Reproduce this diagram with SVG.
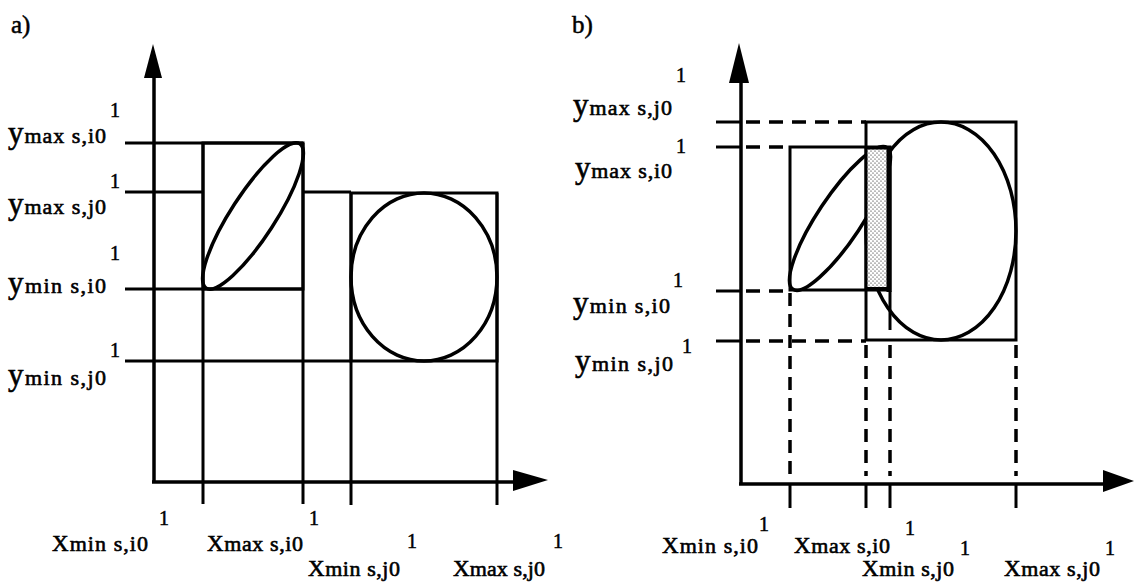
<svg xmlns="http://www.w3.org/2000/svg" width="1142" height="582" viewBox="0 0 1142 582">
<style>
.ln{stroke:#000;stroke-width:3;fill:none;stroke-linecap:butt}
.ax{stroke:#000;stroke-width:3.5;fill:none}
.el{stroke:#000;stroke-width:3.5;fill:none}
.dh{stroke:#000;stroke-width:3.5;fill:none;stroke-dasharray:14 9}
.dv{stroke:#000;stroke-width:3.5;fill:none;stroke-dasharray:13 8}
.t{font-family:"Liberation Serif","Times New Roman",serif;font-size:22px;fill:#000;stroke:#000;stroke-width:0.6}
.big{font-size:31px}
.bx{font-size:23px}
.sup{font-family:"Liberation Serif","Times New Roman",serif;font-size:20px;fill:#000;stroke:#000;stroke-width:0.5}
.hd{font-family:"Liberation Serif","Times New Roman",serif;font-size:25px;fill:#000;stroke:#000;stroke-width:0.5}
</style>
<defs>
<pattern id="dots" width="4" height="4" patternUnits="userSpaceOnUse">
<rect width="4" height="4" fill="#fff"/>
<circle cx="1" cy="1" r="0.6" fill="#000"/>
<circle cx="3" cy="3" r="0.6" fill="#000"/>
</pattern>
</defs>
<rect width="1142" height="582" fill="#fff"/>

<!-- Panel a -->
<g id="panel-a">
<text class="hd" x="11" y="33">a)</text>
<g id="a-axes">
<line class="ax" x1="154" y1="78" x2="154" y2="482"/>
<polygon points="153,44 144,78 162,78" fill="#000"/>
<line class="ax" x1="152" y1="482" x2="515" y2="482"/>
<polygon points="548,480 513,470 513,491" fill="#000"/>
</g>
<g id="a-lines">
<line class="ln" x1="125" y1="143" x2="303" y2="143"/>
<line class="ln" x1="125" y1="192" x2="203" y2="192"/>
<line class="ln" x1="303" y1="192" x2="351" y2="192"/>
<line class="ln" x1="125" y1="289" x2="303" y2="289"/>
<line class="ln" x1="125" y1="361" x2="351" y2="361"/>
<line class="ln" x1="203" y1="143" x2="203" y2="504"/>
<line class="ln" x1="303" y1="143" x2="303" y2="504"/>
<line class="ln" x1="351" y1="193" x2="351" y2="505"/>
<line class="ln" x1="497" y1="193" x2="497" y2="505"/>
</g>
<g id="a-box-i">
<rect class="ln" x="203" y="143" width="100" height="146"/>
<ellipse class="el" cx="253" cy="216" rx="86" ry="22" transform="rotate(-57 253 216)"/>
</g>
<g id="a-box-j">
<rect class="ln" x="351" y="193" width="146" height="168"/>
<ellipse class="el" cx="424" cy="277" rx="73" ry="84"/>
</g>
<g id="a-labels">
<text class="sup" x="110" y="117">1</text>
<text class="t" x="8" y="143" textLength="98" lengthAdjust="spacing"><tspan class="big">y</tspan>max s,i0</text>
<text class="sup" x="110" y="188">1</text>
<text class="t" x="8" y="214" textLength="98" lengthAdjust="spacing"><tspan class="big">y</tspan>max s,j0</text>
<text class="sup" x="110" y="260">1</text>
<text class="t" x="8" y="293" textLength="98" lengthAdjust="spacing"><tspan class="big">y</tspan>min  s,i0</text>
<text class="sup" x="110" y="357">1</text>
<text class="t" x="8" y="385" textLength="98" lengthAdjust="spacing"><tspan class="big">y</tspan>min  s,j0</text>
<text class="sup" x="159" y="525">1</text>
<text class="t" x="52" y="551" textLength="96" lengthAdjust="spacing"><tspan class="bx">X</tspan>min  s,i0</text>
<text class="sup" x="309" y="525">1</text>
<text class="t" x="207" y="551" textLength="96" lengthAdjust="spacing"><tspan class="bx">X</tspan>max s,i0</text>
<text class="sup" x="407" y="548">1</text>
<text class="t" x="308" y="576" textLength="92" lengthAdjust="spacing"><tspan class="bx">X</tspan>min s,j0</text>
<text class="sup" x="553" y="548">1</text>
<text class="t" x="453" y="576" textLength="92" lengthAdjust="spacing"><tspan class="bx">X</tspan>max s,j0</text>
</g>
</g>

<!-- Panel b -->
<g id="panel-b">
<text class="hd" x="572" y="33">b)</text>
<g id="b-axes">
<line class="ax" x1="741" y1="82" x2="741" y2="484"/>
<polygon points="739,43 729,83 749,83" fill="#000"/>
<line class="ax" x1="739" y1="484" x2="1105" y2="484"/>
<polygon points="1134,481 1103,470 1103,492" fill="#000"/>
</g>
<g id="b-ticks">
<line class="ln" x1="716" y1="122" x2="741" y2="122"/>
<line class="ln" x1="716" y1="147" x2="741" y2="147"/>
<line class="ln" x1="716" y1="291" x2="741" y2="291"/>
<line class="ln" x1="716" y1="341" x2="741" y2="341"/>
<line class="ln" x1="790" y1="484" x2="790" y2="508"/>
<line class="ln" x1="866" y1="484" x2="866" y2="508"/>
<line class="ln" x1="890" y1="484" x2="890" y2="508"/>
<line class="ln" x1="1016" y1="484" x2="1016" y2="508"/>
</g>
<g id="b-dashes">
<line class="dh" x1="746" y1="122" x2="866" y2="122"/>
<line class="dh" x1="746" y1="147" x2="790" y2="147"/>
<line class="dh" x1="746" y1="291" x2="790" y2="291"/>
<line class="dh" x1="746" y1="341" x2="866" y2="341"/>
<line class="dv" x1="790" y1="293" x2="790" y2="476"/>
<line class="dv" x1="866" y1="345" x2="866" y2="476"/>
<line class="ln" x1="890" y1="291" x2="890" y2="330"/>
<line class="dv" x1="890" y1="345" x2="890" y2="476"/>
<line class="dv" x1="1016" y1="345" x2="1016" y2="476"/>
</g>
<g id="b-box-j">
<rect class="ln" x="866" y="122" width="150" height="218"/>
<ellipse class="el" cx="941" cy="231" rx="75" ry="109"/>
</g>
<g id="b-box-i">
<rect class="ln" x="790" y="147" width="100" height="143"/>
<ellipse class="el" cx="840" cy="218.5" rx="85" ry="22" transform="rotate(-56.4 840 218.5)"/>
</g>
<g id="b-overlap">
<rect x="866" y="148" width="23" height="141" fill="url(#dots)" stroke="#000" stroke-width="3"/>
<line x1="889" y1="146" x2="889" y2="292" stroke="#000" stroke-width="5"/>
<line x1="865" y1="289" x2="891" y2="289" stroke="#000" stroke-width="4"/>
</g>
<g id="b-labels">
<text class="sup" x="676" y="82">1</text>
<text class="t" x="573" y="115" textLength="99" lengthAdjust="spacing"><tspan class="big">y</tspan>max s,j0</text>
<text class="sup" x="676" y="153">1</text>
<text class="t" x="575" y="178" textLength="97" lengthAdjust="spacing"><tspan class="big">y</tspan>max s,i0</text>
<text class="sup" x="673" y="287">1</text>
<text class="t" x="573" y="313" textLength="97" lengthAdjust="spacing"><tspan class="big">y</tspan>min  s,i0</text>
<text class="sup" x="682" y="353">1</text>
<text class="t" x="575" y="371" textLength="98" lengthAdjust="spacing"><tspan class="big">y</tspan>min  s,j0</text>
<text class="sup" x="759" y="531">1</text>
<text class="t" x="662" y="553" textLength="96" lengthAdjust="spacing"><tspan class="bx">X</tspan>min  s,i0</text>
<text class="sup" x="905" y="535">1</text>
<text class="t" x="794" y="553" textLength="96" lengthAdjust="spacing"><tspan class="bx">X</tspan>max s,i0</text>
<text class="sup" x="960" y="555">1</text>
<text class="t" x="862" y="576" textLength="92" lengthAdjust="spacing"><tspan class="bx">X</tspan>min s,j0</text>
<text class="sup" x="1105" y="555">1</text>
<text class="t" x="1004" y="576" textLength="96" lengthAdjust="spacing"><tspan class="bx">X</tspan>max s,j0</text>
</g>
</g>
</svg>
